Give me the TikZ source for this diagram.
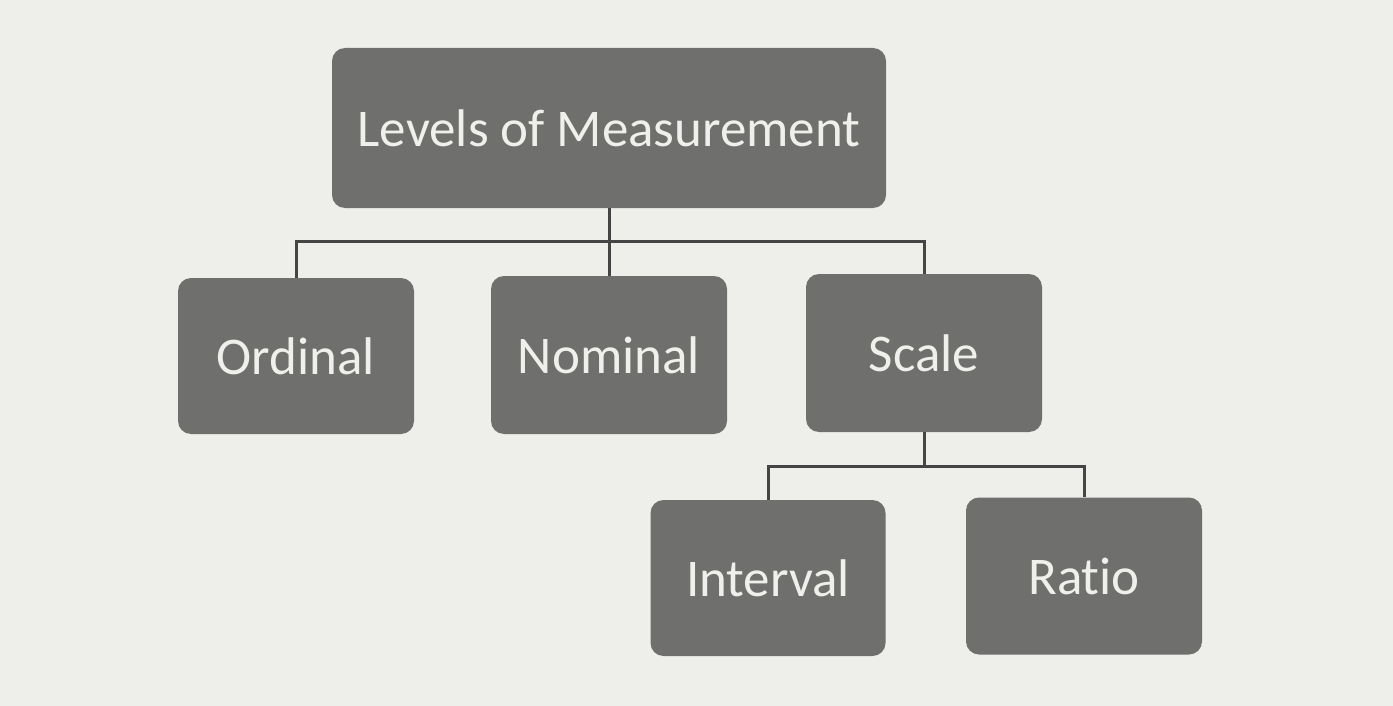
\documentclass[tikz,border=0pt]{standalone}
\usepackage{fontspec}
\setmainfont{Carlito}[Ligatures=NoCommon]
\definecolor{paper}{HTML}{EEEEEA}
\definecolor{boxfill}{HTML}{6F6F6D}
\definecolor{boxtext}{HTML}{EFEFEB}
\definecolor{linec}{HTML}{454545}
\begin{document}
\begin{tikzpicture}[x=1pt,y=-1pt,
  levelbox/.style={fill=boxfill,rounded corners=13pt,text=boxtext,
    font=\fontsize{53}{60}\selectfont,inner sep=0pt,anchor=center},
  conn/.style={draw=linec,line width=3pt}]
\fill[paper] (0,0) rectangle (1393,706);
\useasboundingbox (0,0) rectangle (1393,706);
\node[levelbox,minimum width=554pt,minimum height=160pt] (top) at (609,128) {Levels of Measurement};
\node[levelbox,minimum width=236pt,minimum height=156pt] (ord) at (296,356) {Ordinal};
\node[levelbox,minimum width=236pt,minimum height=158pt] (nom) at (609,355) {Nominal};
\node[levelbox,minimum width=236pt,minimum height=158pt] (sca) at (924,353) {Scale};
\node[levelbox,minimum width=235pt,minimum height=156pt] (int) at (768,578) {Interval};
\node[levelbox,minimum width=236pt,minimum height=157pt] (rat) at (1084,576) {Ratio};
\coordinate (j1) at (609,241);
\coordinate (j2) at (924,466);
\draw[conn] (top.south) -- (nom.north);
\draw[conn] (ord.north) |- (j1) -| (sca.north);
\draw[conn] (sca.south) -- (j2);
\draw[conn] (int.north) |- (j2) -| (rat.north);
\end{tikzpicture}
\end{document}
